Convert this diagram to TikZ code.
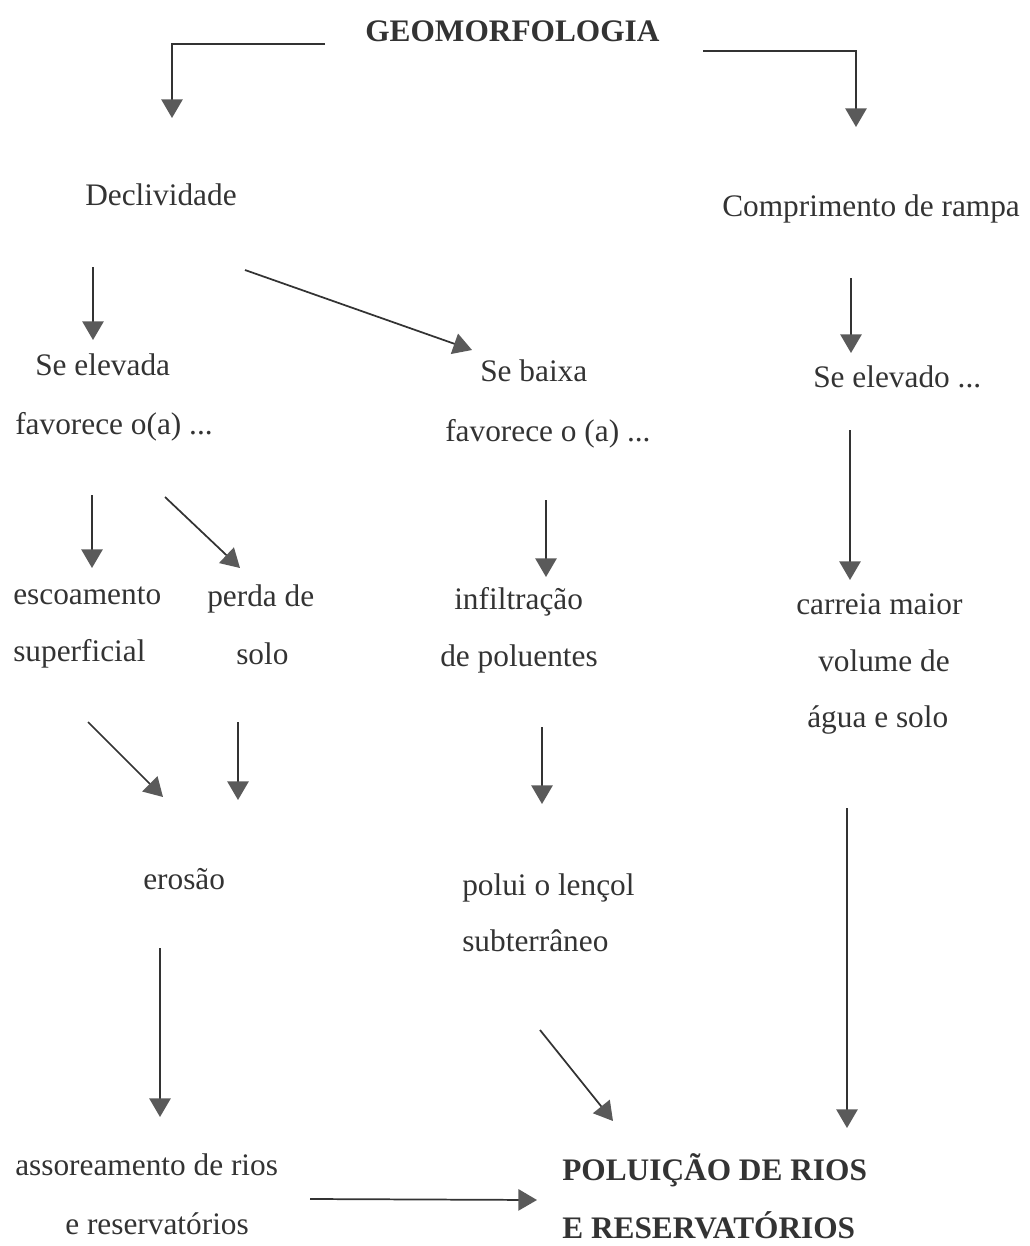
\documentclass[tikz,border=0pt]{standalone}
\usepackage{fontspec}
\setmainfont{Liberation Serif}
\usetikzlibrary{arrows.meta}
\definecolor{ink}{HTML}{333333}
\definecolor{tipc}{HTML}{5A5A5A}
\tikzset{
  txt/.style={inner sep=0pt, anchor=base west, text=ink, font=\fontsize{23.5}{28}\selectfont},
  btxt/.style={txt, font=\fontsize{23.5}{28}\selectfont\bfseries},
  arr/.style={draw=ink, line width=1.3pt, -{Triangle[width=16pt,length=14pt,fill=tipc,color=tipc]}},
}
\begin{document}
\begin{tikzpicture}[x=0.75pt,y=-0.75pt]
\useasboundingbox (0,0) rectangle (1029,1246);
% texts
\node[btxt] (geo) at (365,41) {GEOMORFOLOGIA};
\node[txt] (decl) at (85,205) {Declividade};
\node[txt] (comp) at (722,216) {Comprimento de rampa};
\node[txt] (sea1) at (35,375) {Se elevada};
\node[txt] (sea2) at (15,434) {favorece o(a) ...};
\node[txt] (seb1) at (480,381) {Se baixa};
\node[txt] (seb2) at (445,441) {favorece o (a) ...};
\node[txt] (sec1) at (813,387) {Se elevado ...};
\node[txt] (esc1) at (13,604) {escoamento};
\node[txt] (esc2) at (13,661) {superficial};
\node[txt] (per1) at (207,606) {perda de};
\node[txt] (per2) at (236,664) {solo};
\node[txt] (inf1) at (454,609) {infiltração};
\node[txt] (inf2) at (440,666) {de poluentes};
\node[txt] (car1) at (796,614) {carreia maior};
\node[txt] (car2) at (818,671) {volume de};
\node[txt] (car3) at (807,727) {água e solo};
\node[txt] (ero) at (143,889) {erosão};
\node[txt] (pol1) at (462,895) {polui o lençol};
\node[txt] (pol2) at (462,951) {subterrâneo};
\node[txt] (ass1) at (15,1175) {assoreamento de rios};
\node[txt] (ass2) at (65,1234) {e reservatórios};
\node[btxt] (fin1) at (562,1180) {POLUIÇÃO DE RIOS};
\node[btxt] (fin2) at (562,1238) {E RESERVATÓRIOS};
% arrow end points
\coordinate (a1s) at (325,44);  \coordinate (a1e) at (172,118);
\coordinate (a2s) at (703,51);  \coordinate (a2e) at (856,127);
\coordinate (a3s) at (93,267);  \coordinate (a3e) at (93,340);
\coordinate (a4s) at (245,270); \coordinate (a4e) at (472,350);
\coordinate (a5s) at (92,495);  \coordinate (a5e) at (92,568);
\coordinate (a6s) at (165,497); \coordinate (a6e) at (240,568);
\coordinate (a7s) at (546,500); \coordinate (a7e) at (546,577);
\coordinate (a8s) at (851,278); \coordinate (a8e) at (851,353);
\coordinate (a9s) at (850,430); \coordinate (a9e) at (850,580);
\coordinate (a10s) at (88,722); \coordinate (a10e) at (163,797);
\coordinate (a11s) at (238,722); \coordinate (a11e) at (238,800);
\coordinate (a12s) at (542,727); \coordinate (a12e) at (542,804);
\coordinate (a13s) at (847,808); \coordinate (a13e) at (847,1128);
\coordinate (a14s) at (160,948); \coordinate (a14e) at (160,1117);
\coordinate (a15s) at (540,1030); \coordinate (a15e) at (613,1121);
\coordinate (a16s) at (310,1199); \coordinate (a16e) at (537,1200);
% arrows
\draw[arr] (a1s) -| (a1e);
\draw[arr] (a2s) -| (a2e);
\foreach \i in {3,...,16} {\draw[arr] (a\i s) -- (a\i e);}
\end{tikzpicture}
\end{document}
